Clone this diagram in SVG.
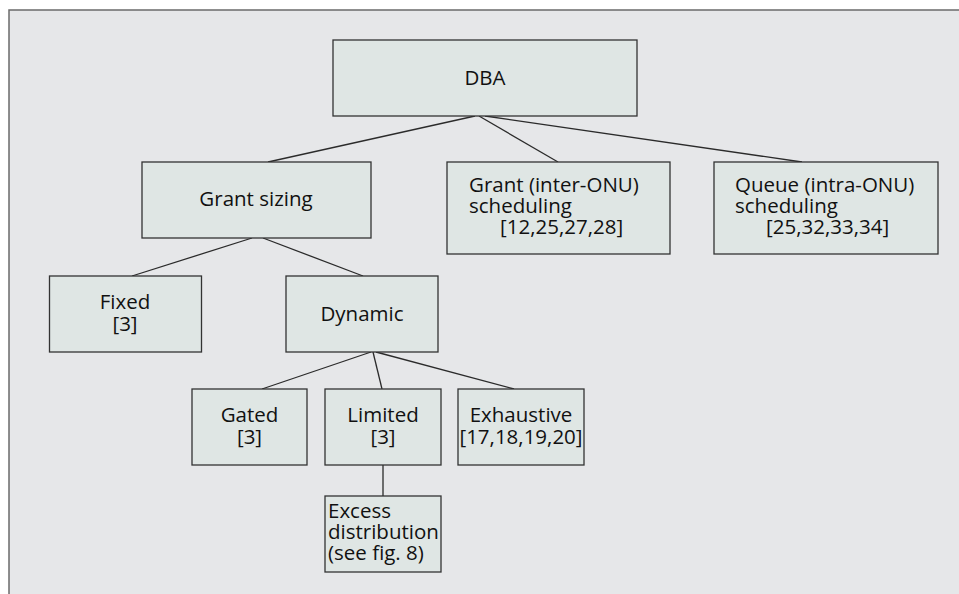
<svg xmlns="http://www.w3.org/2000/svg" width="959" height="594" viewBox="0 0 959 594">
<style>
.frame{fill:#e6e7e9;stroke:#6b6b6b;stroke-width:1.5}
.box{fill:#dfe6e4;stroke:#333333;stroke-width:1.3}
.edge{stroke:#2b2b2b;stroke-width:1.3;fill:none}
text{font-family:"Open Sans","Noto Sans","Liberation Sans",sans-serif;font-size:20.5px;fill:#111111}
.c{text-anchor:middle}
</style>
<rect class="frame" x="9" y="10" width="962" height="600"/>
<g id="connectors">
<line class="edge" x1="475" y1="116" x2="268" y2="162"/>
<line class="edge" x1="479" y1="116" x2="558" y2="162"/>
<line class="edge" x1="485" y1="116" x2="802" y2="162"/>
<line class="edge" x1="252" y1="238" x2="132" y2="276"/>
<line class="edge" x1="263" y1="238" x2="363" y2="276"/>
<line class="edge" x1="371" y1="352" x2="262" y2="389"/>
<line class="edge" x1="373" y1="352" x2="382" y2="389"/>
<line class="edge" x1="376" y1="352" x2="514" y2="389"/>
<line class="edge" x1="383" y1="465" x2="383" y2="496"/>
</g>
<g id="dba">
<rect class="box" x="333" y="40" width="304" height="76"/>
<text class="c" x="485" y="85">DBA</text>
</g>
<g id="grant-sizing">
<rect class="box" x="142" y="162" width="229" height="76"/>
<text class="c" x="256" y="206">Grant sizing</text>
</g>
<g id="grant-scheduling">
<rect class="box" x="447" y="162" width="223" height="92"/>
<text x="469" y="192"><tspan x="469">Grant (inter-ONU)</tspan><tspan x="469" dy="21">scheduling</tspan><tspan x="500" dy="21">[12,25,27,28]</tspan></text>
</g>
<g id="queue-scheduling">
<rect class="box" x="714" y="162" width="224" height="92"/>
<text x="735" y="192"><tspan x="735">Queue (intra-ONU)</tspan><tspan x="735" dy="21">scheduling</tspan><tspan x="766" dy="21">[25,32,33,34]</tspan></text>
</g>
<g id="fixed">
<rect class="box" x="49.5" y="276" width="152" height="76"/>
<text class="c" x="125" y="309"><tspan x="125">Fixed</tspan><tspan x="125" dy="22">[3]</tspan></text>
</g>
<g id="dynamic">
<rect class="box" x="286" y="276" width="152" height="76"/>
<text class="c" x="362" y="321">Dynamic</text>
</g>
<g id="gated">
<rect class="box" x="192" y="389" width="115" height="76"/>
<text class="c" x="249.5" y="422"><tspan x="249.5">Gated</tspan><tspan x="249.5" dy="22">[3]</tspan></text>
</g>
<g id="limited">
<rect class="box" x="325" y="389" width="116" height="76"/>
<text class="c" x="383" y="422"><tspan x="383">Limited</tspan><tspan x="383" dy="22">[3]</tspan></text>
</g>
<g id="exhaustive">
<rect class="box" x="458" y="389" width="126" height="76"/>
<text class="c" x="521" y="422"><tspan x="521">Exhaustive</tspan><tspan x="521" dy="22">[17,18,19,20]</tspan></text>
</g>
<g id="excess">
<rect class="box" x="325" y="496" width="116" height="76"/>
<text x="328" y="518"><tspan x="328">Excess</tspan><tspan x="328" dy="21">distribution</tspan><tspan x="328" dy="21">(see fig. 8)</tspan></text>
</g>
</svg>
